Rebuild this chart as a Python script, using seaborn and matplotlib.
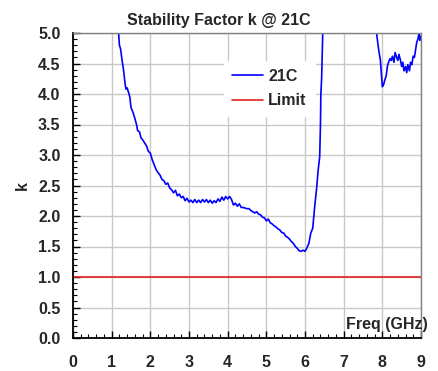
import matplotlib
matplotlib.use("Agg")
import matplotlib.pyplot as plt
import seaborn as sns
import numpy as np
from matplotlib.ticker import MultipleLocator

freq = [1.00, 1.10, 1.18, 1.20, 1.23, 1.27, 1.31, 1.35, 1.37, 1.40, 1.44, 1.47, 1.50, 1.55,
        1.60, 1.65, 1.67, 1.72, 1.76, 1.80, 1.85, 1.90, 1.95, 2.00, 2.05, 2.10, 2.15, 2.20,
        2.25, 2.30, 2.35, 2.40, 2.45, 2.50, 2.55, 2.60, 2.65, 2.70, 2.75, 2.80, 2.85, 2.90,
        2.95, 3.00, 3.05, 3.10, 3.15, 3.20, 3.25, 3.30, 3.35, 3.40, 3.45, 3.50, 3.55, 3.60,
        3.65, 3.70, 3.75, 3.80, 3.85, 3.90, 3.95, 4.00, 4.05, 4.10, 4.15, 4.20, 4.25, 4.30,
        4.35, 4.40, 4.50, 4.55, 4.60, 4.65, 4.70, 4.75, 4.80, 4.85, 4.90, 4.95, 5.00, 5.05,
        5.10, 5.15, 5.20, 5.25, 5.30, 5.35, 5.40, 5.45, 5.50, 5.55, 5.60, 5.65, 5.70, 5.75,
        5.80, 5.85, 5.90, 5.95, 6.00, 6.05, 6.10, 6.15, 6.20, 6.25, 6.30, 6.34, 6.38, 6.40,
        6.41, 6.43, 6.46, 6.55, 6.80, 7.20, 7.60, 7.80, 7.85, 7.90, 7.95, 8.00, 8.03, 8.06,
        8.10, 8.13, 8.16, 8.20, 8.23, 8.26, 8.30, 8.33, 8.37, 8.40, 8.43, 8.47, 8.50, 8.53,
        8.56, 8.60, 8.63, 8.66, 8.70, 8.73, 8.76, 8.80, 8.83, 8.86, 8.89, 8.92, 8.95, 8.97,
        9.00]
k_21c = [6.50, 5.60, 5.00, 4.80, 4.74, 4.55, 4.38, 4.15, 4.08, 4.10, 4.02, 3.95, 3.78, 3.70,
         3.60, 3.48, 3.40, 3.38, 3.28, 3.25, 3.20, 3.15, 3.06, 3.03, 2.92, 2.84, 2.76, 2.71,
         2.67, 2.60, 2.58, 2.52, 2.54, 2.46, 2.43, 2.38, 2.42, 2.33, 2.36, 2.30, 2.32, 2.25,
         2.29, 2.23, 2.26, 2.22, 2.27, 2.22, 2.26, 2.22, 2.27, 2.23, 2.27, 2.22, 2.26, 2.21,
         2.25, 2.22, 2.28, 2.24, 2.31, 2.26, 2.32, 2.28, 2.32, 2.27, 2.18, 2.21, 2.16, 2.20,
         2.14, 2.14, 2.12, 2.12, 2.09, 2.07, 2.05, 2.07, 2.03, 2.02, 1.98, 1.97, 1.92, 1.95,
         1.89, 1.87, 1.84, 1.82, 1.79, 1.77, 1.73, 1.72, 1.67, 1.65, 1.62, 1.58, 1.55, 1.50,
         1.47, 1.43, 1.42, 1.44, 1.42, 1.48, 1.55, 1.72, 1.80, 2.15, 2.45, 2.75, 2.97, 3.50,
         4.00, 4.25, 5.00, 7.50, 9.00, 10.00, 8.00, 5.60, 5.00, 4.75, 4.55, 4.12, 4.15, 4.22,
         4.30, 4.45, 4.52, 4.58, 4.55, 4.62, 4.52, 4.68, 4.60, 4.55, 4.65, 4.55, 4.45, 4.52,
         4.38, 4.45, 4.35, 4.48, 4.38, 4.52, 4.48, 4.62, 4.60, 4.72, 4.85, 4.90, 5.00, 4.88,
         4.95]
limit_freq = [0.0, 9.0]
limit_k = [1.0, 1.0]

sns.set_style("white")
plt.rcParams['font.family'] = ['Liberation Sans', 'DejaVu Sans']
plt.rcParams['font.weight'] = 'bold'

FS = 11.5
fig = plt.figure(figsize=(4.38, 3.71), dpi=100)
ax = fig.add_axes([73/438, 1-338/371, (421-73)/438, (338-33)/371])

sns.lineplot(x=freq, y=k_21c, ax=ax, color="#0000ff", linewidth=1.2, label="21C")
sns.lineplot(x=limit_freq, y=limit_k, ax=ax, color="#e02020", linewidth=1.2, label="Limit")

ax.set_xlim(0, 9)
ax.set_ylim(0, 5)
ax.xaxis.set_major_locator(MultipleLocator(1))
ax.xaxis.set_minor_locator(MultipleLocator(0.2))
ax.yaxis.set_major_locator(MultipleLocator(0.5))
ax.yaxis.set_minor_locator(MultipleLocator(0.1))
ax.yaxis.set_major_formatter(matplotlib.ticker.FormatStrFormatter('%.1f'))
ax.grid(True, which='major', color='#c8c8c8', linewidth=1.0)
ax.set_axisbelow(True)

ax.tick_params(axis='x', which='both', direction='in', bottom=True, top=False, pad=12,
               labelsize=FS)
ax.tick_params(axis='y', which='both', direction='in', left=True, right=False, pad=9,
               labelsize=FS)
ax.tick_params(which='major', length=5, width=1, color='black')
ax.tick_params(which='minor', length=3, width=0.8, color='black')
for lab in ax.get_xticklabels() + ax.get_yticklabels():
    lab.set_fontweight('bold')

for s in ['left', 'bottom']:
    ax.spines[s].set_color('black')
    ax.spines[s].set_linewidth(1.3)
for s in ['top', 'right']:
    ax.spines[s].set_color('#808080')
    ax.spines[s].set_linewidth(1.0)

ax.set_xlabel("")
ax.set_ylabel("k", fontsize=FS, fontweight='bold', labelpad=6)
ax.text(1.02, 0.045, "Freq (GHz)", transform=ax.transAxes, ha='right', va='center',
        fontsize=FS, fontweight='bold')
ax.set_title("Stability Factor k @ 21C", fontsize=FS, fontweight='bold', pad=6,
             x=(219 - 73) / 348)

leg = ax.legend(loc='upper left', bbox_to_anchor=(0.412, 0.935), frameon=True,
                fancybox=False, edgecolor='white', facecolor='white', framealpha=1,
                prop={'size': FS, 'weight': 'bold'}, handlelength=1.9,
                labelspacing=0.6, handletextpad=0.35, borderpad=0.5)

fig.savefig("out.png", dpi=100)
